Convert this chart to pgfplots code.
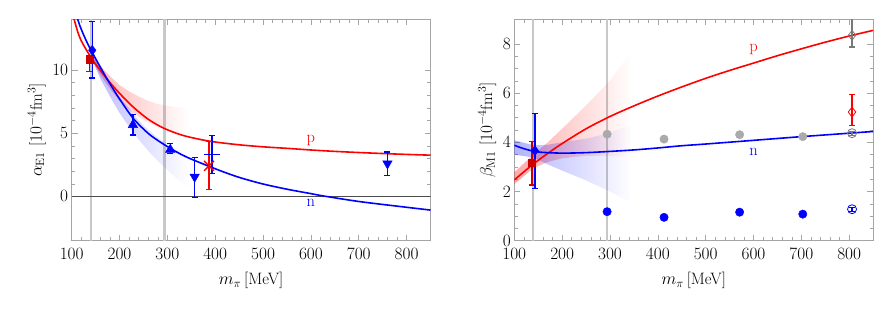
\documentclass[border=0pt]{standalone}
\usepackage{pgfplots}
\pgfplotsset{compat=1.18}
\usetikzlibrary{fadings}
\definecolor{cred}{RGB}{255,0,0}
\definecolor{cblue}{RGB}{0,0,255}
\definecolor{dred}{RGB}{205,0,0}
\definecolor{lgray}{RGB}{200,200,200}
\definecolor{pgray}{RGB}{170,170,170}
\definecolor{dgray}{RGB}{120,120,120}
\definecolor{framegray}{RGB}{165,165,165}
\tikzfading[name=bandfade, left color=transparent!25, right color=transparent!100]
\newcommand{\fs}{\fontsize{16.5}{19}\selectfont}
\begin{document}
\begin{tikzpicture}
\useasboundingbox (0,0) rectangle (894pt,313pt);
\pgfplotsset{
  every axis/.append style={
    scale only axis, width=358.8pt, height=221.4pt, anchor=south west,
    axis line style={framegray, line width=0.6pt},
    tick style={framegray, line width=0.5pt},
    tick align=inside, major tick length=6pt, minor tick length=3.5pt,
    xmin=100, xmax=850, xtick={100,200,...,800}, minor x tick num=4,
    tick label style={font=\fs},
    x tick label style={yshift=-4pt},
    xlabel={$m_\pi\,$[MeV]},
    every axis x label/.style={at={(axis description cs:0.5,0)}, anchor=center, yshift=-40pt, font=\fs},
    clip=true,
  },
  curve/.style={line width=1.6pt},
  errp/.style={only marks, color=#1, error bars/y dir=both, error bars/y explicit,
     error bars/error bar style={color=#1, line width=1.4pt},
     error bars/error mark options={color=#1, rotate=90, line width=1.3pt, mark size=3pt}},
}
% ---------- left: alpha_E1 ----------
\begin{axis}[at={(71.7pt,72.3pt)},
  ymin=-3.5, ymax=14, ytick={0,5,10}, minor y tick num=4,
  ylabel={$\alpha_{\mathrm{E1}}$ [$10^{-4}$fm$^3$]},
  every axis y label/.style={at={(axis description cs:-0.0976,0.5)}, rotate=90, anchor=center, font=\fs},
]
\addplot[lgray, line width=2.2pt] coordinates {(139.6,-3.5) (139.6,14)};
\addplot[lgray, line width=2.2pt] coordinates {(294,-3.5) (294,14)};
\addplot[black!70, line width=0.6pt] coordinates {(100,0) (850,0)};
% bands
\addplot[draw=none, fill=red, fill opacity=0.4, path fading=bandfade] table {
140 11.2
160 10.3
180 9.5
200 8.8
220 8.3
240 7.9
260 7.55
280 7.3
300 7.15
320 7.05
345 7.0
345 4.7
320 4.95
300 5.2
280 5.5
260 5.85
240 6.3
220 6.85
200 7.55
180 8.5
160 9.6
140 10.9
} -- cycle;
\addplot[draw=none, fill=blue, fill opacity=0.35, path fading=bandfade] table {
145 11.25
160 10.3
180 9.0
200 7.85
220 6.95
240 6.0
260 5.25
280 4.65
300 4.15
320 3.75
345 3.35
345 0.7
320 1.4
300 2.1
280 2.8
260 3.6
240 4.5
220 5.5
200 6.6
180 7.9
160 9.3
145 10.6
} -- cycle;
% curves
\addplot[cred, curve, smooth] table {
103 14.3
108 13.6
114 12.85
120 12.3
128 11.75
136 11.25
145 10.72
160 9.95
180 9.0
200 8.15
229 7.05
260 6.1
292 5.4
330 4.85
369 4.5
400 4.3
450 4.08
500 3.92
550 3.8
600 3.67
650 3.56
700 3.47
750 3.39
800 3.32
850 3.26
};
\addplot[cblue, curve, smooth] table {
110 14.3
117 13.5
124 12.85
133 12.1
142 11.45
160 10.2
180 8.9
200 7.7
229 6.15
260 4.98
285 4.3
307 3.78
330 3.3
350 2.95
387 2.38
420 1.9
453 1.47
500 0.98
550 0.57
600 0.22
627 0.03
700 -0.4
787 -0.8
850 -1.08
};
% data
\addplot[errp=dred, mark=square*, mark size=3.5pt] table[x=x,y=y,y error plus=ep,y error minus=em] {
x y ep em
137 10.8 0.35 0.95
};
\addplot[errp=cblue, mark=diamond*, mark size=5pt] table[x=x,y=y,y error plus=ep,y error minus=em] {
x y ep em
143 11.55 2.25 2.2
};
\addplot[errp=cblue, mark=triangle*, mark size=5.5pt] table[x=x,y=y,y error plus=ep,y error minus=em] {
x y ep em
228 5.65 0.85 0.8
306 3.7 0.5 0.3
};
\addplot[errp=cblue, mark=triangle*, mark size=5.5pt, mark options={rotate=180, fill=cblue, draw=cblue}] table[x=x,y=y,y error plus=ep,y error minus=em] {
x y ep em
357 1.55 1.55 1.65
760 2.6 0.92 0.92
};
\addplot[errp=cblue, mark=-, mark size=8pt, mark options={draw=cblue, line width=1.5pt}] table[x=x,y=y,y error plus=ep,y error minus=em] {
x y ep em
393 3.3 1.5 1.5
};
\addplot[errp=cred, mark=x, mark size=7pt, mark options={line width=1.4pt}] table[x=x,y=y,y error plus=ep,y error minus=em] {
x y ep em
387 2.42 1.9 1.9
};
\node[cred, font=\fs] at (axis cs:600,4.45) {p};
\node[cblue, font=\fs] at (axis cs:600,-0.55) {n};
\end{axis}
% ---------- right: beta_M1 ----------
\begin{axis}[at={(514.3pt,72.3pt)},
  ymin=0, ymax=9, ytick={0,2,4,6,8}, minor y tick num=3,
  ylabel={$\beta_{\mathrm{M1}}$ [$10^{-4}$fm$^3$]},
  every axis y label/.style={at={(axis description cs:-0.0753,0.5)}, rotate=90, anchor=center, font=\fs},
]
\addplot[lgray, line width=2.2pt] coordinates {(139.6,0) (139.6,9)};
\addplot[lgray, line width=2.2pt] coordinates {(294,0) (294,9)};
\addplot[draw=none, fill=red, fill opacity=0.45, path fading=bandfade] table {
100 2.78
140 3.5
170 4.0
200 4.55
250 5.5
300 6.5
345 7.7
345 3.4
300 3.45
250 3.45
200 3.35
170 3.2
140 2.95
100 2.3
} -- cycle;
\addplot[draw=none, fill=blue, fill opacity=0.4, path fading=bandfade] table {
100 4.08
140 3.88
170 3.9
200 4.0
250 4.15
300 4.38
345 4.75
345 1.55
300 2.0
250 2.45
200 2.85
170 3.1
140 3.38
100 3.5
} -- cycle;
\addplot[cred, curve, smooth] table {
100 2.47
120 2.8
140 3.12
170 3.55
200 3.95
250 4.55
300 5.05
350 5.48
400 5.88
450 6.25
500 6.6
550 6.92
600 7.22
650 7.52
700 7.8
750 8.07
800 8.32
850 8.55
};
\addplot[cblue, curve, smooth] table {
100 3.88
120 3.74
140 3.64
160 3.59
200 3.56
250 3.58
300 3.63
350 3.69
400 3.77
450 3.86
500 3.93
600 4.08
700 4.23
800 4.37
850 4.44
};
\addplot[only marks, pgray, mark=*, mark size=4.2pt] table {
294 4.33
413 4.13
571 4.31
703 4.23
};
\addplot[only marks, cblue, mark=*, mark size=4.2pt] table {
294 1.18
413 0.95
571 1.16
703 1.08
};
\addplot[errp=dred, mark=square*, mark size=3.5pt] table[x=x,y=y,y error plus=ep,y error minus=em] {
x y ep em
137 3.19 0.84 0.92
};
\addplot[errp=cblue, mark=diamond*, mark size=5pt] table[x=x,y=y,y error plus=ep,y error minus=em] {
x y ep em
143 3.66 1.5 1.53
};
\addplot[errp=dgray, mark=diamond, mark size=5pt, mark options={line width=0.8pt}] table[x=x,y=y,y error plus=ep,y error minus=em] {
x y ep em
806 8.35 0.68 0.48
};
\addplot[errp=cred, mark=diamond, mark size=5pt, mark options={line width=0.8pt}] table[x=x,y=y,y error plus=ep,y error minus=em] {
x y ep em
806 5.23 0.71 0.56
};
\addplot[errp=dgray, mark=o, mark size=4.5pt, mark options={line width=0.8pt}] table[x=x,y=y,y error plus=ep,y error minus=em] {
x y ep em
806 4.37 0.08 0.08
};
\addplot[errp=cblue, mark=o, mark size=4.5pt, mark options={line width=0.8pt}] table[x=x,y=y,y error plus=ep,y error minus=em] {
x y ep em
806 1.28 0.08 0.08
};
\node[cred, font=\fs] at (axis cs:600,7.77) {p};
\node[cblue, font=\fs] at (axis cs:600,3.6) {n};
\end{axis}
\end{tikzpicture}
\end{document}
